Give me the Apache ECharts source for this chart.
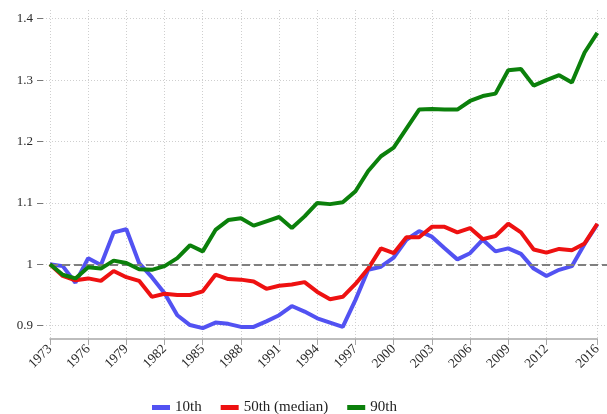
<!DOCTYPE html>
<html>
<head>
<meta charset="utf-8">
<script src="https://cdn.jsdelivr.net/npm/echarts/dist/echarts.min.js"></script>
<style>
  html, body { margin: 0; padding: 0; background: #fff; }
  #chart { width: 607px; height: 414px; }
</style>
</head>
<body>
<div id="chart"></div>
<script>
// years and the three wage percentiles (index, 1973 = 1)
const years = [
  1973, 1974, 1975, 1976, 1977, 1978, 1979, 1980, 1981, 1982,
  1983, 1984, 1985, 1986, 1987, 1988, 1989, 1990, 1991, 1992,
  1993, 1994, 1995, 1996, 1997, 1998, 1999, 2000, 2001, 2002,
  2003, 2004, 2005, 2006, 2007, 2008, 2009, 2010, 2011, 2012,
  2013, 2014, 2015, 2016
];
const p10 = [
  1.000, 0.997, 0.970, 1.010, 0.999, 1.052, 1.057, 1.002, 0.979, 0.953,
  0.917, 0.901, 0.896, 0.905, 0.903, 0.898, 0.898, 0.907, 0.917, 0.932,
  0.923, 0.912, 0.905, 0.898, 0.942, 0.991, 0.996, 1.011, 1.040, 1.054,
  1.045, 1.026, 1.008, 1.018, 1.040, 1.021, 1.026, 1.017, 0.993, 0.981,
  0.991, 0.997, 1.033, 1.065
];
const p50 = [
  1.000, 0.981, 0.974, 0.977, 0.973, 0.989, 0.979, 0.973, 0.947, 0.952,
  0.950, 0.950, 0.956, 0.983, 0.976, 0.975, 0.972, 0.960, 0.965, 0.967,
  0.971, 0.955, 0.943, 0.947, 0.968, 0.993, 1.026, 1.018, 1.044, 1.044,
  1.061, 1.061, 1.052, 1.059, 1.041, 1.046, 1.066, 1.052, 1.024, 1.019,
  1.025, 1.023, 1.034, 1.066
];
const p90 = [
  1.000, 0.983, 0.977, 0.995, 0.993, 1.006, 1.002, 0.992, 0.991, 0.997,
  1.010, 1.031, 1.021, 1.056, 1.072, 1.075, 1.063, 1.070, 1.077, 1.059,
  1.078, 1.100, 1.098, 1.101, 1.119, 1.152, 1.176, 1.190, 1.221, 1.252,
  1.253, 1.252, 1.252, 1.266, 1.274, 1.278, 1.316, 1.318, 1.291, 1.300,
  1.308, 1.296, 1.345, 1.377
];
const seriesNames = ['10th', '50th (median)', '90th'];
const xTicks = [1973, 1976, 1979, 1982, 1985, 1988, 1991, 1994, 1997, 2000, 2003, 2006, 2009, 2012, 2016];
const yTicks = [0.9, 1, 1.1, 1.2, 1.3, 1.4];
const baseline = 1;

const colors = ['#5252f2', '#ee1111', '#0b800b'];
const font = 'Liberation Serif';
const yMin = 0.8783, yMax = 1.4142;

const toPairs = vals => years.map((y, i) => [y, vals[i]]);

const chart = echarts.init(document.getElementById('chart'));
chart.setOption({
  animation: false,
  grid: [
    // outer grid: horizontal grid lines and the data
    { left: 43, right: 0, top: 10, bottom: 75 },
    // inner grid: x axis from 1973 to 2016
    { left: 50, right: 9.7, top: 10, bottom: 75 }
  ],
  xAxis: [
    {
      gridIndex: 0, type: 'value', min: 1972.45, max: 2016.76,
      axisLine: { show: false }, axisTick: { show: false },
      axisLabel: { show: false }, splitLine: { show: false }
    },
    {
      gridIndex: 1, type: 'value', min: 1973, max: 2016,
      axisLine: { show: true, lineStyle: { color: '#a8a8a8', width: 1.5 } },
      axisTick: { show: true, length: 6, customValues: xTicks, lineStyle: { color: '#a8a8a8' } },
      axisLabel: {
        customValues: xTicks, rotate: 45, margin: 8,
        fontFamily: font, fontSize: 13.5, color: '#2a2a2a',
        formatter: v => String(v)
      },
      splitLine: { show: true, lineStyle: { color: '#cfcfcf', type: [1, 2], width: 1 } }
    }
  ],
  yAxis: [
    {
      gridIndex: 0, type: 'value', min: yMin, max: yMax,
      axisLine: { show: false },
      axisTick: { show: true, length: 6, customValues: yTicks, lineStyle: { color: '#777' } },
      axisLabel: {
        customValues: yTicks, margin: 10,
        fontFamily: font, fontSize: 13, color: '#2a2a2a',
        formatter: v => String(+v.toFixed(1))
      },
      splitLine: { show: true, lineStyle: { color: '#cfcfcf', type: [1, 2], width: 1 } }
    },
    {
      gridIndex: 1, type: 'value', min: yMin, max: yMax, show: false
    }
  ],
  legend: {
    left: 152, top: 400, padding: 0,
    icon: 'rect', itemWidth: 18, itemHeight: 5, itemGap: 19,
    textStyle: { fontFamily: font, fontSize: 15, color: '#222' },
    data: seriesNames
  },
  series: [p10, p50, p90].map((vals, i) => {
    const s = {
      name: seriesNames[i],
      type: 'line',
      xAxisIndex: 0, yAxisIndex: 0,
      data: toPairs(vals),
      showSymbol: false,
      color: colors[i],
      lineStyle: { width: 4, color: colors[i] },
      z: 3 + i
    };
    if (i === 0) {
      s.markLine = {
        silent: true, symbol: 'none', label: { show: false },
        lineStyle: { color: '#808080', type: [8, 4], width: 2 },
        data: [[{ coord: [years[0], baseline] }, { coord: [2016.76, baseline] }]]
      };
    }
    return s;
  })
});
</script>
</body>
</html>
